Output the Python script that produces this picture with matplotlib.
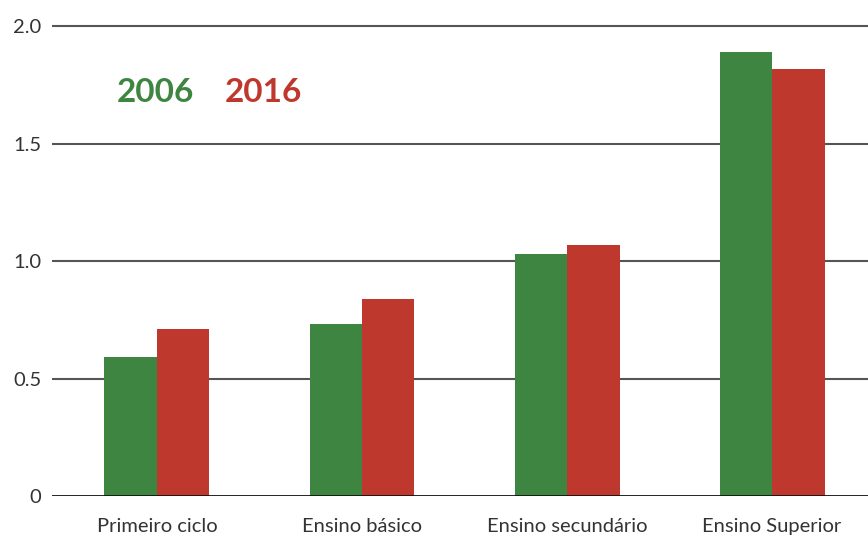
import matplotlib
matplotlib.use("Agg")
import matplotlib.pyplot as plt
import numpy as np

categories = ["Primeiro ciclo", "Ensino básico", "Ensino secundário", "Ensino Superior"]
series_names = ["2006", "2016"]
values_2006 = [0.59, 0.73, 1.03, 1.89]
values_2016 = [0.71, 0.84, 1.07, 1.815]
y_ticks = [0, 0.5, 1.0, 1.5, 2.0]
y_tick_labels = ["0", "0.5", "1.0", "1.5", "2.0"]

green = "#3D8540"
red = "#BF382E"

plt.rcParams['font.family'] = ['Lato', 'DejaVu Sans']

fig = plt.figure(figsize=(8.68, 5.38), dpi=100)
W, H = 868, 538
left_px, right_px, bottom_px, top_px = 52, 868, 496, 21.3
ax = fig.add_axes([left_px / W, 1 - bottom_px / H, (right_px - left_px) / W, (bottom_px - top_px) / H])

x = np.arange(len(categories))
bw = 0.256
ax.bar(x - bw / 2, values_2006, width=bw, color=green, zorder=3)
ax.bar(x + bw / 2, values_2016, width=bw, color=red, zorder=3)

ax.set_xlim(-0.512, 3.468)
ax.set_ylim(0, 2.02)
ax.set_yticks(y_ticks)
ax.set_yticklabels(y_tick_labels)
ax.set_xticks(x)
ax.set_xticklabels(categories)

for s in ax.spines.values():
    s.set_visible(False)
ax.tick_params(axis='both', length=0, labelsize=14.5, labelcolor="#333333")
ax.tick_params(axis='y', pad=7.5)
ax.tick_params(axis='x', pad=16)

for yt in y_ticks[1:]:
    ax.axhline(yt, color="#555555", linewidth=1.5, zorder=1)
ax.axhline(0, color="#111111", linewidth=2, zorder=4)

fig.text(117 / W, 1 - 92 / H, series_names[0], color=green, fontsize=24, fontweight='bold', va='center', ha='left')
fig.text(225 / W, 1 - 92 / H, series_names[1], color=red, fontsize=24, fontweight='bold', va='center', ha='left')

fig.savefig("out.png", dpi=100)
